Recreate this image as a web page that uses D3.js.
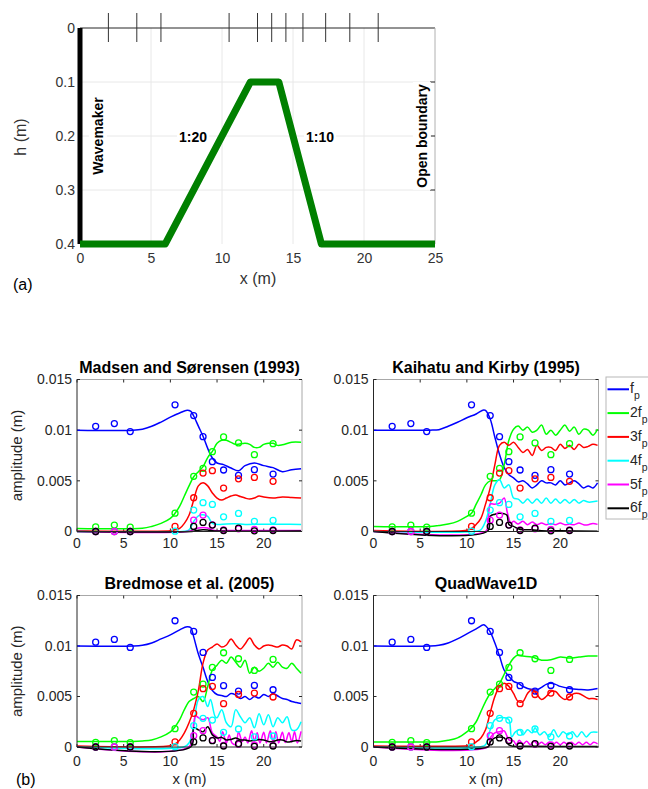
<!DOCTYPE html>
<html>
<head>
<meta charset="utf-8">
<script src="https://cdn.jsdelivr.net/npm/d3@7"></script>
<style>
  body { margin: 0; background: #fff; }
  text { font-family: "Liberation Sans", Arial, sans-serif; }
</style>
</head>
<body>
<div id="chart"></div>
<script>
// ---------- panel (a): bathymetry ----------
const bedX = [0, 6, 12, 14, 17, 25];
const bedH = [0.4, 0.4, 0.1, 0.1, 0.4, 0.4];
const bedTicksX = [0, 5, 10, 15, 20, 25];
const bedTicksH = [0, 0.1, 0.2, 0.3, 0.4];

// gauge positions (also the measured points of panel b)
const obsX = [2, 4, 5.7, 10.5, 12.5, 13.5, 14.5, 15.7, 17.3, 19, 21];

// ---------- panel (b): measured amplitudes (x 1e-3 m) ----------
const obsF1 = [10.38, 10.65, 9.86, 12.5, 11.44, 9.36, 6.89, 6.07, 5.54, 6.1, 5.67];
const obsF2 = [0.46, 0.63, 0.43, 1.81, 5.44, 6.23, 7.88, 9.33, 8.74, 7.58, 8.67];
const obsF3 = [0, 0, 0, 0.5, 3.33, 5.77, 6.0, 4.29, 5.2, 5.34, 4.95];
const obsF4 = [0, 0, 0, 0.03, 2.11, 2.84, 2.67, 1.45, 1.78, 1.0, 1.09];
const obsF5 = [0, 0, 0, null, 1.12, 1.62, 0.66, 0.16, 0.26, 0.2, 0.16];
const obsF6 = [0, null, 0, null, 0.5, 0.9, 0.63, 0.1, 0.33, 0.07, 0.1];

// ---------- model results [x, amplitude x 1e-3 m] ----------
// Madsen and Sørensen (1993)
const msF1 = [[0,10],[6,10],[7,10.1],[8,10.38],[9,10.8],[10,11.28],[11,11.7],[11.8,11.97],[12.2,11.85],[12.5,11.4],[13,10.4],[13.5,9.4],[14,8.2],[14.5,7.25],[15,6.76],[15.7,6.6],[16.5,6.26],[17.3,6.0],[18,6.5],[19,6.76],[20,6.5],[21,6.3],[22,5.9],[23,6.1],[24,6.2]];
const msF2 = [[0,0.3],[7,0.33],[8,0.5],[9,0.8],[10,1.3],[10.5,1.8],[11,2.5],[11.5,3.5],[12,4.5],[12.5,5.4],[13,5.9],[13.5,6.4],[14,7.3],[14.5,7.9],[15,8.7],[15.5,9.0],[16,9.0],[16.5,8.8],[17,8.6],[18,8.7],[18.5,8.6],[19,8.3],[19.5,8.3],[20,8.6],[20.5,8.7],[21,8.7],[21.5,8.5],[22,8.55],[23,8.8],[24,8.8]];
const msF3 = [[0,0.05],[10,0.08],[10.5,0.16],[11,0.3],[11.5,0.8],[12,1.6],[12.5,3.1],[13,4.5],[13.5,4.8],[14,4.5],[14.5,3.8],[15,3.3],[15.5,3.1],[16,3.3],[16.5,3.5],[17,3.6],[17.5,3.45],[18,3.3],[18.5,3.2],[19,3.3],[19.5,3.5],[20,3.4],[21,3.3],[22,3.4],[23,3.35],[24,3.3]];
const msF4 = [[0,0],[11.5,0.02],[12,0.16],[12.5,1.0],[13,1.55],[13.5,1.65],[14,1.5],[14.5,0.8],[15,0.7],[16,0.75],[17,0.76],[18,0.7],[20,0.72],[22,0.72],[24,0.7]];
const msF5 = [[0,0],[12,0.02],[12.5,0.2],[13,0.35],[13.5,0.4],[14,0.35],[14.5,0.15],[15,0.07],[16,0.1],[24,0.1]];
const msF6 = [[0,0],[12.5,0.03],[13,0.13],[13.5,0.17],[14,0.15],[14.5,0.08],[15,0.05],[24,0.05]];

// Kaihatu and Kirby (1995)
const kkF1 = [[0,10],[6,10],[7,10.05],[8,10.39],[9,10.78],[10,11.22],[11,11.6],[11.8,12],[12,11.95],[12.5,11.1],[13,9.3],[13.5,7.6],[14,6.3],[14.5,5.6],[15,5.3],[15.5,4.9],[16,5.0],[16.5,4.7],[17,4.3],[17.5,4.6],[18,5.0],[18.5,4.8],[19,4.8],[19.5,4.6],[20,5.0],[20.5,4.6],[21,4.8],[21.5,5.0],[22,4.7],[22.5,4.3],[23,4.5],[23.5,4.3],[24,4.8]];
const kkF2 = [[0,0.5],[6,0.5],[7,0.6],[8,0.73],[9,1.0],[10,1.5],[10.5,1.8],[11,2.7],[11.5,3.6],[12,4.6],[12.5,5.0],[13,5.0],[13.5,5.1],[14,6.6],[14.5,9.0],[15,10.1],[15.5,10.4],[16,10.0],[16.5,10.3],[17,9.8],[17.5,10.0],[18,10.5],[18.5,9.6],[19,10.0],[19.5,9.5],[20,10.0],[20.5,10.5],[21,9.9],[21.5,10.3],[22,9.6],[22.5,10.1],[23,10.0],[23.5,9.5],[24,10.1]];
const kkF3 = [[0,0.1],[10,0.12],[10.5,0.3],[11,0.7],[11.5,1.3],[12,2.7],[12.5,4.3],[13,6.6],[13.5,8.5],[14,8.8],[14.5,8.5],[15,8.8],[15.5,8.3],[16,7.8],[16.5,8.1],[17,7.5],[17.5,8.5],[18,8.0],[18.5,8.3],[19,8.3],[19.5,8.0],[20,8.6],[20.5,8.2],[21,8.5],[21.5,8.1],[22,8.6],[22.5,8.3],[23,8.4],[23.5,8.6],[24,8.5]];
const kkF4 = [[0,0],[11,0.02],[11.5,0.17],[12,1.0],[12.5,2.7],[13,4.6],[13.5,5.1],[14,4.3],[14.5,4.6],[15,3.3],[15.5,3.2],[16,2.8],[16.5,3.2],[17,2.8],[17.5,3.2],[18,2.8],[18.5,3.3],[19,2.8],[19.5,3.2],[20,2.8],[20.5,3.15],[21,2.8],[21.5,3.15],[22,2.8],[22.5,3.05],[23,2.9],[24,3.0]];
const kkF5 = [[0,0],[12,0.02],[12.3,1.0],[12.5,2.7],[13,2.7],[13.5,2.8],[14,3.3],[14.3,2.0],[14.5,1.3],[14.7,0.8],[15,1.0],[15.5,0.75],[16,1.0],[16.5,0.67],[17,0.93],[17.5,0.67],[18,0.83],[18.5,0.67],[19,0.8],[19.5,0.67],[20,0.83],[20.5,0.67],[21,0.73],[21.5,0.67],[22,0.83],[22.5,0.67],[23,0.67],[23.5,0.8],[24,0.7]];
const kkF6 = [[0,0],[12.2,0.02],[12.5,1.5],[13,1.7],[13.5,1.8],[14,1.75],[14.3,1.6],[14.5,0.7],[15,0.5],[15.5,0.27],[16,0.17],[17,0.17],[18,0.07],[20,0.07],[24,0.03]];

// Bredmose et al. (2005)
const brF1 = [[0,10],[6,10],[7,10.07],[8,10.3],[9,10.7],[10,11.1],[11,11.6],[11.8,11.9],[12.2,11.8],[12.5,10.9],[13,9.2],[13.5,7.9],[14,6.5],[14.5,5.6],[15,5.2],[15.5,5.1],[16,5.0],[16.5,5.3],[17,5.15],[17.5,4.8],[18,5.0],[18.5,4.7],[19,5.0],[19.5,4.85],[20,5.2],[20.5,5.0],[21,5.3],[21.5,5.05],[22,4.8],[22.5,4.7],[23,4.5],[23.5,4.4],[24,4.3]];
const brF2 = [[0,0.55],[6,0.55],[7,0.6],[8,0.7],[9,1.0],[10,1.5],[10.5,2.0],[11,2.7],[11.5,3.7],[12,4.5],[12.5,4.8],[13,5.0],[13.5,4.5],[14,6.0],[14.5,7.6],[15,8.1],[15.5,8.6],[16,8.3],[16.5,8.9],[17,8.4],[17.5,7.9],[18,8.6],[18.5,7.3],[19,7.9],[19.5,7.5],[20,7.8],[20.5,8.3],[21,7.9],[21.5,8.4],[22,7.9],[22.5,7.8],[23,8.3],[23.5,7.8],[24,7.3]];
const brF3 = [[0,0.1],[10,0.12],[10.5,0.3],[11,0.7],[11.5,1.4],[12,2.4],[12.5,3.7],[13,5.6],[13.5,8.3],[14,9.6],[14.5,9.9],[15,10.2],[15.5,9.9],[16,10.1],[16.5,10.7],[17,10.1],[17.5,9.7],[18,10.2],[18.5,10.8],[19,10.1],[19.5,9.7],[20,10.0],[20.5,10.1],[21,10.0],[21.5,9.9],[22,10.1],[22.5,10.0],[23,9.7],[23.5,10.6],[24,10.4]];
const brF4 = [[0,0],[11.5,0.03],[12,0.4],[12.5,2.0],[13,4.7],[13.5,5.0],[14,4.0],[14.3,4.7],[14.8,3.0],[15,2.9],[15.5,3.7],[16,2.4],[16.5,2.0],[17,3.7],[17.5,3.0],[18,2.4],[18.5,2.9],[19,1.9],[19.5,3.3],[20,2.2],[20.5,3.2],[21,2.0],[21.5,2.9],[22,2.4],[22.5,3.0],[23,1.7],[23.5,1.7],[24,2.5]];
const brF5 = [[0,0],[12,0.03],[12.5,2.4],[12.7,3.1],[13,2.9],[13.5,2.7],[14,2.9],[14.5,1.4],[15,1.0],[15.3,0.55],[15.6,1.5],[16,0.4],[16.3,1.2],[16.6,0.4],[17,0.25],[17.3,1.5],[17.7,0.55],[18,1.0],[18.3,0.4],[18.7,1.6],[19,0.6],[19.3,1.4],[19.6,0.4],[20,1.45],[20.3,0.4],[20.7,1.6],[21,0.5],[21.3,1.5],[21.6,0.4],[22,1.45],[22.3,0.45],[22.7,1.4],[23,0.5],[23.3,1.5],[23.6,0.4],[24,1.55]];
const brF6 = [[0,0],[12.2,0.03],[12.5,1.9],[13,1.7],[13.5,1.5],[14,2.0],[14.5,1.2],[15,0.9],[15.5,0.95],[16,0.7],[16.5,0.75],[17,0.9],[17.5,0.7],[18,0.7],[18.5,0.6],[19,0.65],[19.5,0.75],[20,0.7],[20.5,0.55],[21,0.55],[21.5,0.7],[22,0.7],[22.5,0.5],[23,0.55],[23.5,0.65],[24,0.6]];

// QuadWave1D
const qwF1 = [[0,10],[6,10],[7,10.07],[8,10.3],[9,10.7],[10,11.2],[11,11.7],[11.8,12.1],[12,12.0],[12.5,11.4],[13,10.3],[13.5,9.0],[14,7.6],[14.5,7.0],[15,6.5],[15.5,6.3],[16,6.0],[16.5,5.8],[17,5.7],[17.5,5.65],[18,5.9],[18.5,6.2],[19,6.3],[19.5,6.2],[20,6.0],[21,5.8],[22,5.7],[23,5.65],[24,5.8]];
const qwF2 = [[0,0.5],[6,0.5],[7,0.53],[8,0.66],[9,0.9],[10,1.5],[10.5,1.9],[11,2.5],[11.5,3.5],[12,4.5],[12.5,5.3],[13,5.8],[13.5,6.3],[14,7.2],[14.5,8.1],[15,8.8],[15.5,9.1],[16,9.0],[17,8.9],[18,8.6],[19,8.65],[20,8.9],[21,8.8],[22,8.9],[23,9.0],[24,9.0]];
const qwF3 = [[0,0.1],[10,0.12],[10.5,0.2],[11,0.5],[11.5,0.9],[12,1.7],[12.5,3.4],[13,5.0],[13.5,6.0],[14,6.3],[14.5,6.0],[15,5.3],[15.5,4.5],[16,4.5],[16.5,5.3],[17,5.7],[17.5,5.2],[18,4.7],[18.5,5.0],[19,5.5],[19.5,5.5],[20,5.0],[20.5,4.7],[21,5.0],[21.5,5.3],[22,5.3],[23,4.8],[23.5,4.8],[24,4.7]];
const qwF4 = [[0,0],[11.5,0.03],[12,0.23],[12.5,1.7],[13,2.7],[13.5,2.9],[14,2.9],[14.5,2.7],[14.8,1.0],[15.2,1.5],[15.7,1.7],[16,1.2],[16.5,1.7],[17,1.4],[17.3,1.9],[17.8,1.2],[18.3,1.5],[18.8,1.0],[19.3,1.7],[19.8,1.0],[20.3,1.5],[20.8,1.2],[21.3,1.5],[21.8,1.0],[22.3,1.5],[22.8,1.0],[23.3,1.45],[24,1.45]];
const qwF5 = [[0,0],[12.3,0.03],[12.5,0.9],[13,1.4],[13.5,1.5],[14,1.6],[14.5,0.7],[15,0.6],[15.3,0.23],[15.6,0.66],[16,0.3],[16.4,0.56],[16.8,0.23],[17.2,0.63],[17.6,0.23],[18,0.46],[18.4,0.23],[18.8,0.46],[19.2,0.23],[19.6,0.46],[20,0.23],[20.4,0.46],[20.8,0.23],[21.2,0.46],[21.6,0.23],[22,0.46],[22.4,0.23],[22.8,0.46],[23.2,0.23],[23.6,0.46],[24,0.3]];
const qwF6 = [[0,0],[12.3,0.03],[12.5,0.5],[13,0.9],[13.5,1.0],[14,0.9],[14.5,0.2],[15,0.07],[16,0.07],[24,0.05]];

const harmonics = ["f", "2f", "3f", "4f", "5f", "6f"];
const colors = ["#0000ff", "#00ff00", "#ff0000", "#00ffff", "#ff00ff", "#000000"];
const ampTicksX = [0, 5, 10, 15, 20];
const ampTicks = [0, 5, 10, 15];
const ampTickLabels = ["0", "0.005", "0.01", "0.015"];

const svg = d3.select("#chart").append("svg")
    .attr("width", 648)
    .attr("height", 789);

// ================= panel (a) =================
const xA = d3.scaleLinear().domain([0, 25]).range([80, 435]);
const yA = d3.scaleLinear().domain([0, 0.4]).range([28, 244]);
const ga = svg.append("g");

// grid
ga.selectAll(".gx").data(bedTicksX.slice(1, -1)).join("line")
    .attr("x1", d => xA(d)).attr("x2", d => xA(d))
    .attr("y1", yA(0)).attr("y2", yA(0.4))
    .attr("stroke", "#e8e8e8");
ga.selectAll(".gy").data(bedTicksH.slice(1, -1)).join("line")
    .attr("x1", xA(0)).attr("x2", xA(25))
    .attr("y1", d => yA(d)).attr("y2", d => yA(d))
    .attr("stroke", "#e8e8e8");

// box
ga.append("line").attr("x1", xA(0)).attr("x2", xA(25)).attr("y1", yA(0)).attr("y2", yA(0))
    .attr("stroke", "#262626");
ga.append("line").attr("x1", xA(25)).attr("x2", xA(25)).attr("y1", yA(0)).attr("y2", yA(0.4))
    .attr("stroke", "#b0b0b0");
// right inward ticks
ga.selectAll(".rt").data(bedTicksH.slice(1, -1)).join("line")
    .attr("x1", xA(25) - 5).attr("x2", xA(25))
    .attr("y1", d => yA(d)).attr("y2", d => yA(d))
    .attr("stroke", "#262626");

// gauges
ga.selectAll(".gauge").data(obsX).join("line")
    .attr("x1", d => xA(d)).attr("x2", d => xA(d))
    .attr("y1", yA(0) - 15).attr("y2", yA(0) + 14)
    .attr("stroke", "#333").attr("stroke-width", 1);

// axes labels
ga.append("g")
    .attr("transform", `translate(0,${yA(0.4)})`)
    .call(d3.axisBottom(xA).tickValues(bedTicksX).tickSize(0).tickPadding(9))
    .call(g => g.select(".domain").remove())
    .selectAll("text").attr("font-size", 14).attr("fill", "#333")
    .attr("font-family", "Liberation Sans, Arial, sans-serif");
ga.append("g")
    .attr("transform", `translate(${xA(0)},0)`)
    .call(d3.axisLeft(yA).tickValues(bedTicksH).tickSize(0).tickPadding(5).tickFormat(d3.format("")))
    .call(g => g.select(".domain").remove())
    .selectAll("text").attr("font-size", 14).attr("fill", "#333")
    .attr("font-family", "Liberation Sans, Arial, sans-serif");

// text with white background
function labelWithBg(g, txt, x, y, rotate) {
  const t = g.append("text")
      .attr("transform", `translate(${x},${y})` + (rotate ? " rotate(-90)" : ""))
      .attr("text-anchor", "middle").attr("dy", "0.35em")
      .attr("font-size", 14).attr("font-weight", "bold").attr("fill", "#000")
      .text(txt);
  const b = t.node().getBBox();
  g.insert("rect", function() { return t.node(); })
      .attr("transform", t.attr("transform"))
      .attr("x", b.x - 2).attr("y", b.y - 1)
      .attr("width", b.width + 4).attr("height", b.height + 2)
      .attr("fill", "#fff");
}
labelWithBg(ga, "Wavemaker", 98, 136, true);
labelWithBg(ga, "Open boundary", 422, 136, true);
labelWithBg(ga, "1:20", 193, 137, false);
labelWithBg(ga, "1:10", 320, 137, false);

// wavemaker and bed
ga.append("line")
    .attr("x1", xA(0)).attr("x2", xA(0)).attr("y1", yA(0)).attr("y2", yA(0.4))
    .attr("stroke", "#000").attr("stroke-width", 5);
ga.append("path")
    .datum(d3.zip(bedX, bedH))
    .attr("d", d3.line().x(d => xA(d[0])).y(d => yA(d[1])))
    .attr("fill", "none").attr("stroke", "#008000").attr("stroke-width", 7)
    .attr("stroke-linejoin", "round");

ga.append("text").attr("x", 258).attr("y", 284).attr("text-anchor", "middle")
    .attr("font-size", 16).attr("fill", "#333").text("x (m)");
ga.append("text").attr("transform", "translate(20,137) rotate(-90)").attr("text-anchor", "middle")
    .attr("dy", "0.35em").attr("font-size", 16).attr("fill", "#333").text("h (m)");
ga.append("text").attr("x", 13).attr("y", 290).attr("font-size", 16).attr("fill", "#000").text("(a)");

// ================= panel (b) =================
const panelW = 225;
const panels = [
  {title: "Madsen and Sørensen (1993)", left: 77, top: 379.5, h: 152, lines: [msF1, msF2, msF3, msF4, msF5, msF6], yLab: true, xLab: false, lab: 548},
  {title: "Kaihatu and Kirby (1995)", left: 373.5, top: 379.5, h: 152, lines: [kkF1, kkF2, kkF3, kkF4, kkF5, kkF6], yLab: false, xLab: false, lab: 548},
  {title: "Bredmose et al. (2005)", left: 77, top: 595.5, h: 151.5, lines: [brF1, brF2, brF3, brF4, brF5, brF6], yLab: true, xLab: true, lab: 766},
  {title: "QuadWave1D", left: 373.5, top: 595.5, h: 151.5, lines: [qwF1, qwF2, qwF3, qwF4, qwF5, qwF6], yLab: false, xLab: true, lab: 766}
];
const obsAll = [obsF1, obsF2, obsF3, obsF4, obsF5, obsF6];

panels.forEach(p => {
  const x = d3.scaleLinear().domain([0, 24.1]).range([p.left, p.left + panelW]);
  const y = d3.scaleLinear().domain([0, 15]).range([p.top + p.h, p.top]);
  const g = svg.append("g");
  const x0 = x.range()[0], x1 = x.range()[1], y0 = y.range()[0], y1 = y.range()[1];

  // box: top/right light, left/bottom dark
  g.append("line").attr("x1", x0).attr("x2", x1).attr("y1", y1).attr("y2", y1).attr("stroke", "#a8a8a8");
  g.append("line").attr("x1", x1).attr("x2", x1).attr("y1", y0).attr("y2", y1).attr("stroke", "#a8a8a8");

  // inward ticks on all sides
  ampTicksX.forEach(t => {
    g.append("line").attr("x1", x(t)).attr("x2", x(t)).attr("y1", y0).attr("y2", y0 - 3).attr("stroke", "#262626");
    g.append("line").attr("x1", x(t)).attr("x2", x(t)).attr("y1", y1).attr("y2", y1 + 3).attr("stroke", "#262626");
  });
  ampTicks.forEach(t => {
    g.append("line").attr("x1", x0).attr("x2", x0 + 3).attr("y1", y(t)).attr("y2", y(t)).attr("stroke", "#262626");
    g.append("line").attr("x1", x1).attr("x2", x1 - 3).attr("y1", y(t)).attr("y2", y(t)).attr("stroke", "#262626");
  });

  // tick labels
  g.selectAll(".xl").data(ampTicksX).join("text")
      .attr("x", d => x(d)).attr("y", p.lab).attr("text-anchor", "middle")
      .attr("font-size", 14).attr("fill", "#262626").text(d => d);
  g.selectAll(".yl").data(ampTicks).join("text")
      .attr("x", x0 - 5).attr("y", d => y(d)).attr("dy", "0.35em").attr("text-anchor", "end")
      .attr("font-size", 14).attr("fill", "#262626").text((d, i) => ampTickLabels[i]);

  // title
  g.append("text").attr("x", (x0 + x1) / 2).attr("y", p.top - 7).attr("text-anchor", "middle")
      .attr("font-size", 16).attr("font-weight", "bold").attr("fill", "#000").text(p.title);
  if (p.yLab) {
    g.append("text").attr("transform", `translate(17,${(y0 + y1) / 2}) rotate(-90)`)
        .attr("text-anchor", "middle").attr("dy", "0.35em")
        .attr("font-size", 15).attr("fill", "#262626").text("amplitude (m)");
  }
  if (p.xLab) {
    g.append("text").attr("x", (x0 + x1) / 2).attr("y", 784).attr("text-anchor", "middle")
        .attr("font-size", 15).attr("fill", "#262626").text("x (m)");
  }

  // model lines
  const line = d3.line().x(d => x(d[0])).y(d => y(d[1])).curve(d3.curveCatmullRom.alpha(0.5));
  p.lines.forEach((s, i) => {
    g.append("path").datum(s).attr("d", line)
        .attr("fill", "none").attr("stroke", colors[i]).attr("stroke-width", 1.5);
  });

  // measurements
  obsAll.forEach((vals, i) => {
    g.selectAll(null).data(d3.zip(obsX, vals).filter(d => d[1] !== null)).join("circle")
        .attr("cx", d => x(d[0])).attr("cy", d => y(d[1])).attr("r", 3)
        .attr("fill", "none").attr("stroke", colors[i]).attr("stroke-width", 1.3);
  });

  // left / bottom axis lines
  g.append("line").attr("x1", x0).attr("x2", x1).attr("y1", y0).attr("y2", y0).attr("stroke", "#262626");
  g.append("line").attr("x1", x0).attr("x2", x0).attr("y1", y0).attr("y2", y1).attr("stroke", "#262626");
});

// legend (box runs off the right edge, as in the original figure)
const lg = svg.append("g");
lg.append("rect").attr("x", 606).attr("y", 377).attr("width", 60).attr("height", 142)
    .attr("fill", "#fff").attr("stroke", "#b8b8b8");
const entry = lg.selectAll(".entry").data(harmonics).join("g")
    .attr("transform", (d, i) => `translate(0,${389.3 + i * 23.8})`);
entry.append("line").attr("x1", 607.5).attr("x2", 629).attr("y1", 0).attr("y2", 0)
    .attr("stroke", (d, i) => colors[i]).attr("stroke-width", 2);
const et = entry.append("text").attr("x", 630).attr("y", 4).attr("font-size", 14).attr("fill", "#262626");
et.append("tspan").text(d => d);
et.append("tspan").attr("dy", 6).attr("font-size", 10.5).text("p");

svg.append("text").attr("x", 16).attr("y", 785).attr("font-size", 16).attr("fill", "#000").text("(b)");
</script>
</body>
</html>
